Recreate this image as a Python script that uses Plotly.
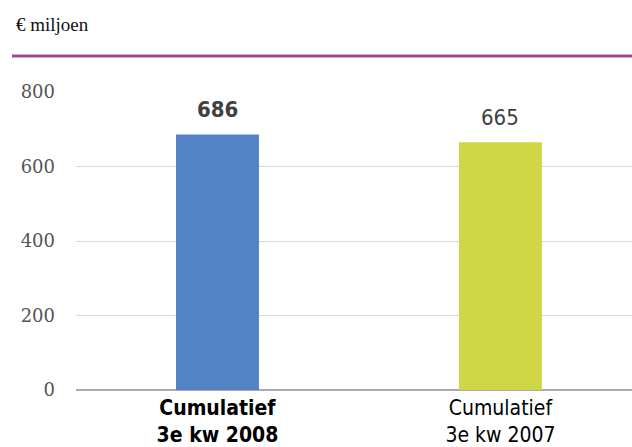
import plotly.graph_objects as go

# Cumulative totals (€ million)
categories = ["Cumulatief<br>3e kw 2008", "Cumulatief<br>3e kw 2007"]
values = [686, 665]
bar_colors = ["#5283c4", "#cfd844"]
y_ticks = [0, 200, 400, 600, 800]

W, H = 632, 447
ML, MR, MT, MB = 76, 0, 92, 57
plot_w = W - ML - MR
plot_h = H - MT - MB

tick_text = ["<b>" + categories[0] + "</b>", categories[1]]
x_pos = [0, 1]

fig = go.Figure()
fig.add_trace(go.Bar(
    x=x_pos,
    y=values,
    width=0.293,
    marker=dict(color=bar_colors, line=dict(width=0)),
    hoverinfo="skip",
))

# Value labels above bars (first one emphasised)
for i, v in enumerate(values):
    label = f"<b>{v}</b>" if i == 0 else f"{v}"
    fig.add_annotation(
        x=x_pos[i], y=v, text=label, showarrow=False,
        yanchor="bottom", yshift=10,
        font=dict(family="DejaVu Sans Condensed", size=22, color="#404040"),
    )

# Unit caption
fig.add_annotation(
    xref="paper", yref="paper",
    x=(14 - ML) / plot_w, y=(H - MB - 25) / plot_h,
    xanchor="left", yanchor="middle",
    text="€ miljoen", showarrow=False,
    font=dict(family="Liberation Serif", size=19, color="#111111"),
)

# Purple rule under the caption
rule_y = (H - MB - 56) / plot_h
fig.add_shape(
    type="line", xref="paper", yref="paper",
    x0=(12 - ML) / plot_w, x1=1.0, y0=rule_y, y1=rule_y,
    line=dict(color="#9b4a9b", width=3),
)

fig.update_layout(
    width=W, height=H,
    margin=dict(l=ML, r=MR, t=MT, b=MB, pad=0),
    paper_bgcolor="white", plot_bgcolor="white",
    showlegend=False,
    xaxis=dict(
        range=[-0.5, 1.465],
        tickvals=x_pos, ticktext=tick_text,
        tickfont=dict(family="DejaVu Sans Condensed", size=21, color="#000000"),
        showgrid=False, zeroline=False, showline=False,
        ticks="", ticklabelstandoff=3,
        fixedrange=True,
    ),
    yaxis=dict(
        range=[0, 800],
        tickvals=y_ticks,
        tickfont=dict(family="DejaVu Serif", size=18, color="#555555"),
        showgrid=True, gridcolor="#d9d9d9", gridwidth=1,
        zeroline=True, zerolinecolor="#a9a9ae", zerolinewidth=2,
        showline=False, ticks="", ticklabelstandoff=20,
        fixedrange=True,
    ),
)

fig.write_html("out.html")
